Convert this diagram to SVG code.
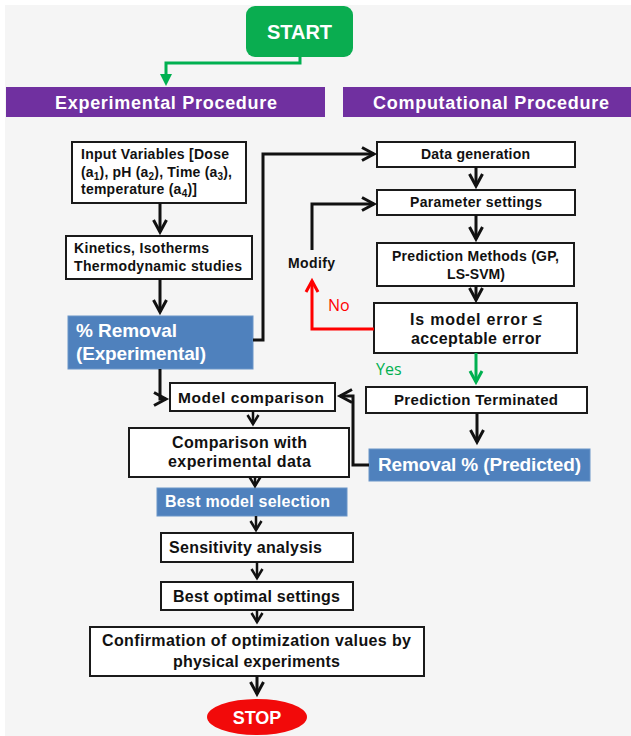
<svg xmlns="http://www.w3.org/2000/svg" width="631" height="736" viewBox="0 0 631 736">
<style>
.box{fill:#fff;stroke:#1a1a1a;stroke-width:2}
.blue{fill:#4f81bd;stroke:#6a95c8;stroke-width:1}
.purple{fill:#7030a0}
.t{font-family:"Liberation Sans",Arial,sans-serif;font-weight:bold;fill:#111}
.w{font-family:"Liberation Sans",Arial,sans-serif;font-weight:bold;fill:#fff}
.lbl{font-family:"Open Sans","Liberation Sans",sans-serif;font-weight:normal}
.c{fill:none;stroke:#111;stroke-width:3}
.cs{fill:none;stroke:#111;stroke-width:2.5}
</style>
<defs>
<marker id="ab" viewBox="-14 -8 18 16" markerWidth="18" markerHeight="16" refX="0" refY="0" orient="auto" markerUnits="userSpaceOnUse">
<path d="M-12,-6.5 L0,0 L-12,6.5" fill="none" stroke="#111" stroke-width="3"/>
</marker>
<marker id="as" viewBox="-12 -7 15 14" markerWidth="15" markerHeight="14" refX="0" refY="0" orient="auto" markerUnits="userSpaceOnUse">
<path d="M-9,-5.5 L0,0 L-9,5.5" fill="none" stroke="#111" stroke-width="2.5"/>
</marker>
<marker id="ar" viewBox="-14 -8 18 16" markerWidth="18" markerHeight="16" refX="0" refY="0" orient="auto" markerUnits="userSpaceOnUse">
<path d="M-11,-6 L0,0 L-11,6" fill="none" stroke="#ff0000" stroke-width="3"/>
</marker>
<marker id="ag" viewBox="-14 -8 18 16" markerWidth="18" markerHeight="16" refX="0" refY="0" orient="auto" markerUnits="userSpaceOnUse">
<path d="M-11,-6 L0,0 L-11,6" fill="none" stroke="#00b050" stroke-width="3"/>
</marker>
<marker id="agf" viewBox="0 0 12 12" markerWidth="12" markerHeight="12" refX="6" refY="6" orient="auto" markerUnits="userSpaceOnUse">
<path d="M0,0 L12,6 L0,12 z" fill="#00b050"/>
</marker>
</defs>
<rect x="5" y="5" width="626" height="731" fill="#f5f5f5"/>

<g id="start">
<rect x="246" y="6" width="107" height="51" rx="9" fill="#0aad50"/>
<text x="299.5" y="38.5" class="w" font-size="20" text-anchor="middle">START</text>
</g>
<g id="hdr-exp">
<rect x="6" y="87" width="319" height="30" class="purple"/>
<text x="55" y="109" class="w" font-size="18" textLength="222">Experimental  Procedure</text>
</g>
<g id="hdr-comp">
<rect x="343" y="87" width="288" height="30" class="purple"/>
<text x="373" y="109" class="w" font-size="18" textLength="236">Computational  Procedure</text>
</g>

<g id="input">
<rect x="72" y="142" width="174" height="61" class="box"/>
<text x="81" y="159" class="t" font-size="14" textLength="148">Input Variables [Dose</text>
<text x="81" y="177" class="t" font-size="14" textLength="151">(a<tspan font-size="10" dy="3">1</tspan><tspan dy="-3">), pH (a</tspan><tspan font-size="10" dy="3">2</tspan><tspan dy="-3">), Time (a</tspan><tspan font-size="10" dy="3">3</tspan><tspan dy="-3">),</tspan></text>
<text x="81" y="194" class="t" font-size="14" textLength="116">temperature (a<tspan font-size="10" dy="3">4</tspan><tspan dy="-3">)]</tspan></text>
</g>
<g id="kinetics">
<rect x="66" y="236" width="186" height="43" class="box"/>
<text x="74" y="253" class="t" font-size="14" textLength="135">Kinetics, Isotherms</text>
<text x="74" y="271" class="t" font-size="14" textLength="168">Thermodynamic studies</text>
</g>
<g id="removal-exp">
<rect x="68" y="316" width="185" height="53" class="blue"/>
<text x="76" y="337" class="w" font-size="19" textLength="101">% Removal</text>
<text x="76" y="360" class="w" font-size="19" textLength="130">(Experimental)</text>
</g>

<g id="datagen">
<rect x="377" y="142" width="198" height="25" class="box"/>
<text x="475.5" y="159" class="t" font-size="14" text-anchor="middle" textLength="109">Data generation</text>
</g>
<g id="params">
<rect x="377" y="190" width="198" height="25" class="box"/>
<text x="476" y="207" class="t" font-size="14" text-anchor="middle" textLength="132">Parameter settings</text>
</g>
<g id="predmethods">
<rect x="377" y="243" width="197" height="43" class="box"/>
<text x="475.5" y="261" class="t" font-size="14" text-anchor="middle" textLength="167">Prediction Methods (GP,</text>
<text x="476" y="279" class="t" font-size="14" text-anchor="middle" textLength="58">LS-SVM)</text>
</g>
<g id="modelerror">
<rect x="374" y="303" width="203" height="50" class="box"/>
<text x="476" y="325" class="t" font-size="16" text-anchor="middle" textLength="132">Is model error  ≤</text>
<text x="476" y="344" class="t" font-size="16" text-anchor="middle" textLength="130">acceptable error</text>
</g>
<g id="modify">
<text x="288" y="268" class="t" font-size="14" textLength="47">Modify</text>
</g>
<g id="predterm">
<rect x="366" y="387" width="221" height="26" class="box"/>
<text x="476" y="405" class="t" font-size="15" text-anchor="middle" textLength="164">Prediction Terminated</text>
</g>
<g id="removal-pred">
<rect x="369" y="449" width="221" height="32" class="blue"/>
<text x="479.5" y="471" class="w" font-size="19" text-anchor="middle" textLength="203">Removal % (Predicted)</text>
</g>

<g id="modelcomp">
<rect x="170" y="383" width="165" height="28" class="box"/>
<text x="251" y="403" class="t" font-size="15.5" text-anchor="middle" textLength="146">Model comparison</text>
</g>
<g id="comparison">
<rect x="129" y="428" width="220" height="49" class="box"/>
<text x="239.5" y="448" class="t" font-size="16" text-anchor="middle" textLength="135">Comparison  with</text>
<text x="239.5" y="467" class="t" font-size="16" text-anchor="middle" textLength="143">experimental  data</text>
</g>
<g id="bestmodel">
<rect x="157" y="488" width="190" height="28" class="blue"/>
<text x="247.5" y="507" class="w" font-size="16" text-anchor="middle" textLength="165">Best model selection</text>
</g>
<g id="sensitivity">
<rect x="161" y="533" width="192" height="29" class="box"/>
<text x="245.5" y="553" class="t" font-size="16" text-anchor="middle" textLength="153">Sensitivity analysis</text>
</g>
<g id="bestoptimal">
<rect x="161" y="582" width="192" height="28" class="box"/>
<text x="256.5" y="602" class="t" font-size="16" text-anchor="middle" textLength="167">Best optimal settings</text>
</g>
<g id="confirmation">
<rect x="90" y="627" width="334" height="49" class="box"/>
<text x="256.5" y="646" class="t" font-size="16" text-anchor="middle" textLength="309">Confirmation  of  optimization  values  by</text>
<text x="256.5" y="667" class="t" font-size="16" text-anchor="middle" textLength="167">physical  experiments</text>
</g>
<g id="stop">
<ellipse cx="257" cy="717" rx="50" ry="18" fill="#f20a0a"/>
<text x="257" y="723.5" class="w" font-size="18" text-anchor="middle">STOP</text>
</g>

<g id="connectors">
<path d="M300,57 V63 H166 V80" fill="none" stroke="#00b050" stroke-width="3" marker-end="url(#agf)"/>
<path d="M160,203 V232" class="c" marker-end="url(#ab)"/>
<path d="M160,279 V312" class="c" marker-end="url(#ab)"/>
<path d="M253,340 H263 V154 H374" class="c" marker-end="url(#ab)"/>
<path d="M476,167 V186" class="c" marker-end="url(#ab)"/>
<path d="M476,215 V239" class="c" marker-end="url(#ab)"/>
<path d="M476,286 V300" class="c" marker-end="url(#ab)"/>
<path d="M374,329 H312 V281" fill="none" stroke="#ff0000" stroke-width="3" marker-end="url(#ar)"/>
<path d="M312,250 V204 H374" class="c" marker-end="url(#ab)"/>
<path d="M476,353 V382" fill="none" stroke="#00b050" stroke-width="3" marker-end="url(#ag)"/>
<path d="M477,413 V442" class="c" marker-end="url(#ab)"/>
<path d="M369,465 H353 V396 H340" class="c" marker-end="url(#ab)"/>
<path d="M160,369 V399 H166" class="c" marker-end="url(#ab)"/>
<path d="M253,411 V424" class="cs" marker-end="url(#as)"/>
<path d="M255,477 V486" class="cs" marker-end="url(#as)"/>
<path d="M256,516 V530" class="cs" marker-end="url(#as)"/>
<path d="M257,562 V578" class="cs" marker-end="url(#as)"/>
<path d="M257,610 V622" class="cs" marker-end="url(#as)"/>
<path d="M257,676 V694" class="c" marker-end="url(#ab)"/>
<text x="328" y="311" class="lbl" font-size="16" fill="#ff0000">No</text>
<text x="376" y="375" class="lbl" font-size="16" fill="#00b050">Yes</text>
</g>
</svg>
